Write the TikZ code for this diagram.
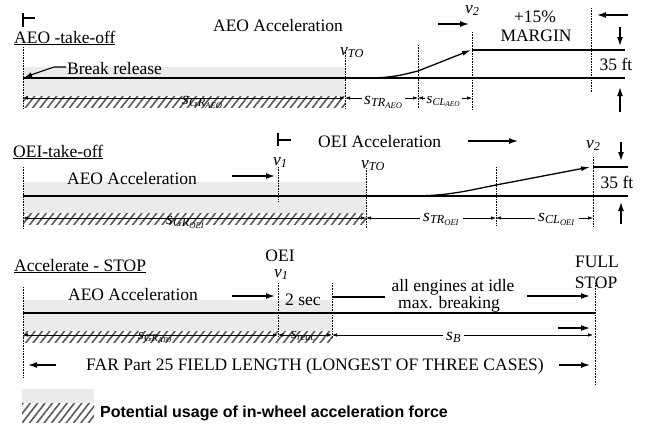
\documentclass[tikz,border=0pt]{standalone}
\usepackage{fontspec}
\setmainfont{Liberation Serif}
\newfontfamily\legendfont{Liberation Sans}
\usetikzlibrary{arrows.meta,patterns.meta}
\newcommand{\ssub}[2]{\textit{#1}\textsubscript{\textit{#2}}}
\newcommand{\sssub}[3]{\textit{#1}\textsubscript{\textit{#2}\textsubscript{\textit{#3}}}}
\tikzset{
 lbl/.style={inner sep=0pt, font=\fontsize{17.5}{19}\selectfont},
 slbl/.style={inner sep=0pt, font=\fontsize{15}{17}\selectfont},
 gaplbl/.style={inner sep=3pt, fill=white, font=\fontsize{17.5}{19}\selectfont},
 dotv/.style={densely dotted, line width=0.6pt},
 runway/.style={line width=1.3pt},
 tickmark/.style={line width=1.2pt},
 bigarr/.style={line width=1.4pt, -{Latex[length=9pt,width=6pt]}},
 dimarr/.style={line width=0.6pt, {Latex[length=5pt,width=3.5pt]}-{Latex[length=5pt,width=3.5pt]}},
 band/.style={fill=black!8, draw=none},
 hatch/.style={draw=none, pattern={Lines[angle=52,distance=5.8pt,line width=1.6pt]}, pattern color=black!65},
}
\begin{document}
\begin{tikzpicture}[x=1pt,y=-1pt]
\useasboundingbox (0,0) rectangle (645,423);

%================ Section 1: AEO take-off
\fill[band] (23,67) rectangle (345,96);
\fill[hatch] (23,96) rectangle (345,107);
\draw[tickmark] (23,13) -- (23,27) (23,18) -- (35,18);
\node[lbl,anchor=base west] (h1) at (14,43) {\underline{AEO -take-off}};
\node[lbl,anchor=base] (acc1) at (278,31) {AEO Acceleration};
\node[lbl,anchor=base west] (br) at (67,74) {Break release};
\coordinate (brA) at (66,67);
\coordinate (brB) at (54,67);
\coordinate (brC) at (25,77);
\draw[line width=1.1pt,-{Latex[length=7pt,width=5pt]}] (brA) -- (brB) -- (brC);
\draw[dotv] (23,47) -- (23,108);
\draw[dotv] (345,50) -- (345,108);
\draw[dotv] (418,45) -- (418,108);
\draw[dotv] (472,32) -- (472,110);
\draw[dotv] (591,8) -- (591,92);
\draw[runway] (23,78) -- (625,78);
\draw[runway] (472,50) -- (625,50);
\draw[runway,-{Latex[length=9pt,width=5pt]}] (345,78) -- (365,78) .. controls (395,78) and (405,74) .. (418,71) -- (471,50);
\node[lbl,anchor=base west] (vto1) at (340,55) {\ssub{v}{TO}};
\node[lbl,anchor=base west] (v21) at (465,13) {\ssub{v}{2}};
\draw[bigarr] (438,24) -- (469,24);
\node[lbl,anchor=base] (m1) at (535,23) {+15\%};
\node[lbl,anchor=base] (m2) at (536,41) {MARGIN};
\draw[bigarr] (628,15) -- (597,15);
\draw[bigarr] (620,27) -- (620,46);
\node[lbl,anchor=base] (ft1) at (616,70) {35 ft};
\draw[bigarr] (620,112) -- (620,87);
% dimensions
\draw[dimarr] (23,98) -- (345,98);
\draw[dimarr] (345,98) -- (418,98);
\draw[dimarr] (418,98) -- (472,98);
\node[lbl,anchor=base west] (sgr1) at (182,104) {\sssub{s}{GR}{AEO}};
\node[gaplbl,anchor=base west,inner sep=2pt] (str1) at (362,104) {\sssub{s}{TR}{AEO}};
\node[slbl,fill=white,anchor=base west,inner sep=1.5pt] (scl1) at (425,103) {\sssub{s}{CL}{AEO}};

%================ Section 2: OEI take-off
\fill[band] (23,182) rectangle (366,213);
\fill[hatch] (23,213) rectangle (366,224);
\node[lbl,anchor=base west] (h2) at (13,157) {\underline{OEI-take-off}};
\node[lbl,anchor=base] (acc2) at (132,184) {AEO Acceleration};
\draw[tickmark] (278,133) -- (278,146) (278,140) -- (291,140);
\node[lbl,anchor=base west] (oacc) at (318,147) {OEI Acceleration};
\draw[bigarr] (468,141) -- (518,141);
\draw[dotv] (23,167) -- (23,228);
\draw[dotv] (278,167) -- (278,202);
\draw[dotv] (366,168) -- (366,228);
\draw[dotv] (496,167) -- (496,226);
\draw[dotv] (593,157) -- (593,226);
\draw[runway] (23,196) -- (628,196);
\draw[runway] (593,167) -- (628,167);
\draw[runway,-{Latex[length=9pt,width=5pt]}] (366,196) -- (410,196) .. controls (450,196) and (470,190) .. (496,185) -- (590,167);
\draw[bigarr] (232,176) -- (275,176);
\node[lbl,anchor=base west] (v1b) at (273,165) {\ssub{v}{1}};
\node[lbl,anchor=base west] (vto2) at (361,168) {\ssub{v}{TO}};
\node[lbl,anchor=base west] (v22) at (586,148) {\ssub{v}{2}};
\draw[bigarr] (621,142) -- (621,161);
\node[lbl,anchor=base] (ft2) at (617,188) {35 ft};
\draw[bigarr] (621,224) -- (621,202);
\draw[dimarr] (23,218) -- (366,218);
\draw[dimarr] (366,218) -- (496,218);
\draw[dimarr] (496,218) -- (593,218);
\node[lbl,anchor=base west] (sgr2) at (166,224) {\sssub{s}{GR}{OEI}};
\node[gaplbl,anchor=base west] (str2) at (420,221) {\sssub{s}{TR}{OEI}};
\node[gaplbl,anchor=base west] (scl2) at (535,221) {\sssub{s}{CL}{OEI}};

%================ Section 3: Accelerate-STOP
\fill[band] (23,300) rectangle (332,331);
\fill[hatch] (23,331) rectangle (332,342);
\node[lbl,anchor=base west] (h3) at (14,271) {\underline{Accelerate - STOP}};
\node[lbl,anchor=base] (acc3) at (133,300) {AEO Acceleration};
\node[lbl,anchor=base] (oei3) at (280,261) {OEI};
\node[lbl,anchor=base west] (v1c) at (274,277) {\ssub{v}{1}};
\draw[bigarr] (232,296) -- (275,296);
\node[lbl,anchor=base west] (sec) at (285,305) {2 sec};
\draw[line width=1.3pt] (333,297) -- (385,297);
\node[lbl,anchor=base] (idle) at (453,291) {all engines at idle};
\node[lbl,anchor=base] (brk) at (449,308) {max. breaking};
\draw[bigarr] (527,296) -- (590,296);
\node[lbl,anchor=base] (full) at (597,267) {FULL};
\node[lbl,anchor=base] (stop) at (596,288) {STOP};
\draw[dotv] (23,287) -- (23,377);
\draw[dotv] (278,283) -- (278,337);
\draw[dotv] (332,283) -- (332,338);
\draw[dotv] (595,283) -- (595,385);
\draw[runway] (23,313) -- (595,313);
\draw[dimarr] (23,335) -- (278,335);
\draw[dimarr] (278,335) -- (332,335);
\draw[dimarr] (332,335) -- (593,335);
\draw[bigarr] (558,328) -- (590,328);
\node[slbl,anchor=base west] (sgr3) at (138,339) {\sssub{s}{GR}{ATO}};
\node[slbl,anchor=base west] (sre) at (291,338) {\ssub{s}{reac}};
\node[gaplbl,anchor=base west] (sb) at (443,340) {\ssub{s}{B}};
\node[lbl,anchor=base] (far) at (315,370) {FAR Part 25 FIELD LENGTH (LONGEST OF THREE CASES)};
\draw[bigarr] (56,365) -- (28,365);
\draw[bigarr] (559,365) -- (590,365);

%================ Legend
\fill[band] (22,389) rectangle (94,403);
\fill[hatch] (22,403) rectangle (94,422);
\node[inner sep=0pt,anchor=base west,font=\legendfont\bfseries\fontsize{16}{18}\selectfont] (leg) at (100,417) {Potential usage of in-wheel acceleration force};
\end{tikzpicture}
\end{document}
